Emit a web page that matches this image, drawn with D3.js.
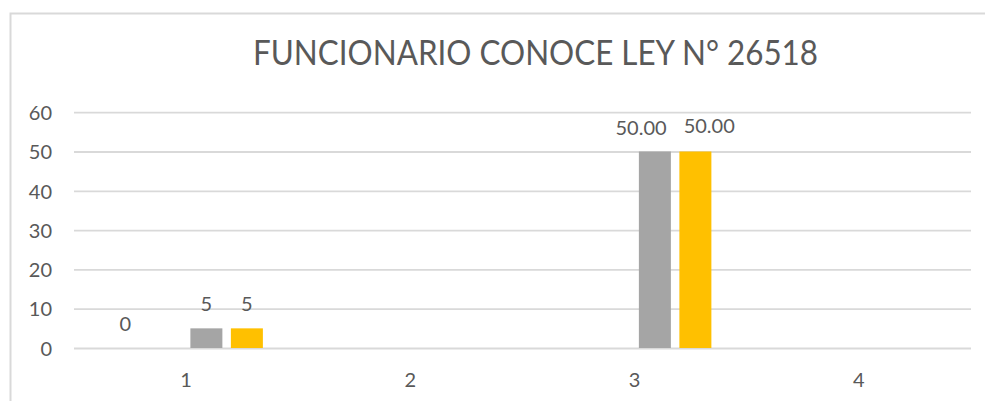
<!DOCTYPE html>
<html>
<head>
<meta charset="utf-8">
<script src="https://cdn.jsdelivr.net/npm/d3@7"></script>
<style>
  html, body { margin: 0; padding: 0; background: #fff; }
  svg { display: block; font-family: Lato, "Open Sans", sans-serif; }
</style>
</head>
<body>
<svg id="chart" width="985" height="401"></svg>
<script>
// ---- data ----
const title = "FUNCIONARIO CONOCE LEY N° 26518";
const categories = ["1", "2", "3", "4"];
const seriesNames = ["Serie 1", "Serie 2", "Serie 3", "Serie 4"];
const serie1 = [0, null, null, null];
const serie2 = [null, null, null, null];
const serie3 = [5, null, 50, null];
const serie4 = [5, null, 50, null];
const labels1 = ["0", null, null, null];
const labels2 = [null, null, null, null];
const labels3 = ["5", null, "50.00", null];
const labels4 = ["5", null, "50.00", null];
const yTicks = [0, 10, 20, 30, 40, 50, 60];
const colors = ["#4472C4", "#ED7D31", "#A5A5A5", "#FFC000"];

const seriesValues = [serie1, serie2, serie3, serie4];
const seriesLabels = [labels1, labels2, labels3, labels4];

// ---- layout ----
const svg = d3.select("#chart");
const plot = { left: 74, right: 971, top: 112.2, bottom: 348 };
const textColor = "#595959";
const gridColor = "#D9D9D9";

// chart border (extends past image on right and bottom)
svg.append("rect")
  .attr("x", 10.5).attr("y", 13.5)
  .attr("width", 1100).attr("height", 500)
  .attr("fill", "none").attr("stroke", gridColor).attr("stroke-width", 2);

// title
svg.append("text")
  .attr("x", 535.5).attr("y", 65)
  .attr("text-anchor", "middle")
  .attr("fill", textColor)
  .attr("font-size", 35.5)
  .attr("textLength", 565)
  .attr("lengthAdjust", "spacingAndGlyphs")
  .text(title);

// scales
const x = d3.scaleBand()
  .domain(categories)
  .range([plot.left, plot.right])
  .paddingInner(0.2775)
  .paddingOuter(0.13875);

const xs = d3.scaleBand()
  .domain(d3.range(seriesNames.length))
  .range([0, x.bandwidth()])
  .paddingInner(0.21)
  .paddingOuter(0.105);

const y = d3.scaleLinear()
  .domain([0, 60])
  .range([plot.bottom, plot.top]);

// gridlines
const grid = svg.append("g")
  .attr("transform", `translate(${plot.left},0)`)
  .call(d3.axisLeft(y).tickValues(yTicks).tickSize(-(plot.right - plot.left)).tickFormat(""));
grid.select(".domain").remove();
grid.selectAll("line").attr("stroke", gridColor).attr("stroke-width", 1.8);

// y tick labels
const yAxis = svg.append("g")
  .attr("transform", `translate(52,0)`)
  .call(d3.axisLeft(y).tickValues(yTicks).tickSize(0).tickPadding(0));
yAxis.select(".domain").remove();
yAxis.selectAll("text")
  .attr("fill", textColor)
  .attr("font-size", 20)
  .attr("font-family", "Lato, 'Open Sans', sans-serif")
  .attr("dy", "0.36em");

// x axis labels
const xAxis = svg.append("g")
  .attr("transform", `translate(0,${plot.bottom})`)
  .call(d3.axisBottom(x).tickSize(0).tickPadding(0));
xAxis.select(".domain").remove();
xAxis.selectAll("text")
  .attr("fill", textColor)
  .attr("font-size", 20)
  .attr("font-family", "Lato, 'Open Sans', sans-serif")
  .attr("dy", null)
  .attr("y", 38.7);

// bars
const barData = [];
seriesValues.forEach((vals, si) => {
  vals.forEach((v, ci) => {
    barData.push({ si, ci, cat: categories[ci], value: v, label: seriesLabels[si][ci] });
  });
});

svg.append("g").selectAll("rect")
  .data(barData.filter(d => d.value !== null && d.value > 0))
  .join("rect")
  .attr("x", d => x(d.cat) + xs(d.si))
  .attr("y", d => y(d.value))
  .attr("width", xs.bandwidth())
  .attr("height", d => y(0) - y(d.value))
  .attr("fill", d => colors[d.si]);

// data labels
const labelData = barData.filter(d => d.label !== null);
const lbl = svg.append("g").selectAll("text")
  .data(labelData)
  .join("text")
  .attr("x", d => x(d.cat) + xs(d.si) + xs.bandwidth() / 2)
  .attr("y", d => y(d.value) - 17)
  .attr("text-anchor", "middle")
  .attr("fill", textColor)
  .attr("font-size", 20)
  .text(d => d.label);

// simple collision avoidance between labels within a category
lbl.each(function(d) { d.w = this.getComputedTextLength(); d.cx = +this.getAttribute("x"); });
categories.forEach(cat => {
  const items = labelData.filter(d => d.cat === cat).sort((a, b) => a.cx - b.cx);
  for (let i = 0; i < items.length - 1; i++) {
    const a = items[i], b = items[i + 1];
    const minSep = (a.w + b.w) / 2 + 17;
    const dist = b.cx - a.cx;
    if (dist < minSep) {
      const push = (minSep - dist) / 2;
      a.cx -= push; b.cx += push;
      b.raised = true;
    }
  }
});
lbl.attr("x", d => d.cx)
   .attr("y", d => y(d.value) - 17 - (d.raised ? 2 : 0));
</script>
</body>
</html>
